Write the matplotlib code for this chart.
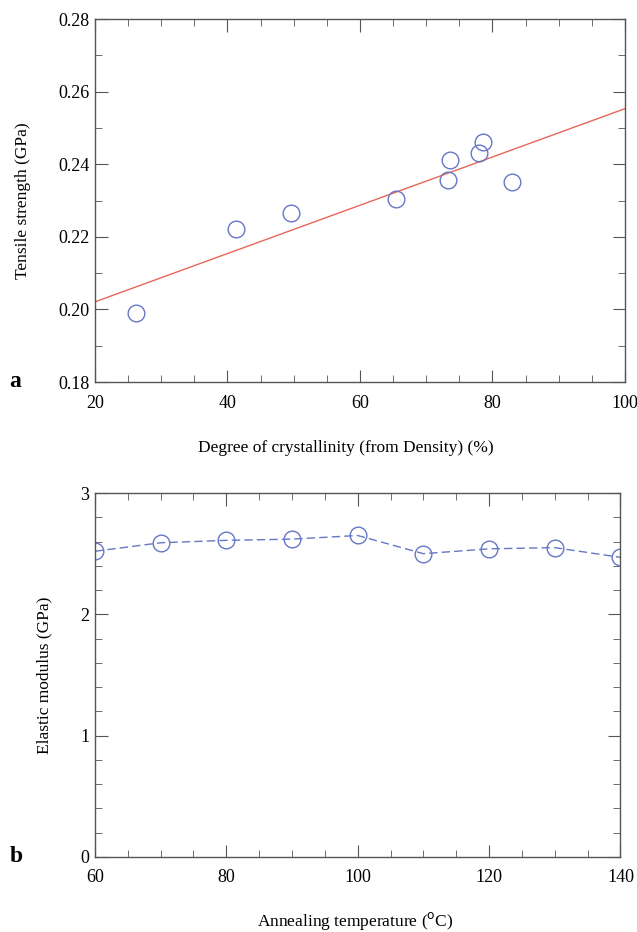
import matplotlib
matplotlib.use('Agg')
import matplotlib.pyplot as plt
from matplotlib.ticker import MultipleLocator

plt.rcParams['font.family'] = ['Liberation Serif', 'DejaVu Serif']

# Panel a: tensile strength vs crystallinity
crystallinity = [26.2, 41.3, 49.6, 65.5, 73.3, 73.6, 78.0, 78.6, 82.9]
tensile = [0.199, 0.2223, 0.2267, 0.2305, 0.2358, 0.2413, 0.2430, 0.2460, 0.2352]
fit_x = [20, 100]
fit_y = [0.2021, 0.2553]

# Panel b: elastic modulus vs annealing temperature
anneal_temp = [60, 70, 80, 90, 100, 110, 120, 130, 140]
modulus = [2.52, 2.59, 2.61, 2.62, 2.65, 2.50, 2.54, 2.55, 2.47]

blue = '#6677c4'
red = '#e8665a'
frame = '#555555'

fig = plt.figure(figsize=(6.37, 9.32), dpi=100)
ax1 = fig.add_axes([0.149, 0.590, 0.832, 0.3896])
ax2 = fig.add_axes([0.149, 0.0805, 0.825, 0.3905])


def style(ax):
    for s in ax.spines.values():
        s.set_color(frame)
        s.set_linewidth(1.0)
    ax.tick_params(which='both', direction='in', top=True, right=True,
                   color=frame, labelsize=13)
    ax.tick_params(which='major', length=9)
    ax.tick_params(which='minor', length=5)
    ax.tick_params(axis='x', which='major', pad=9)
    ax.tick_params(axis='y', which='major', pad=4)


# top panel
ax1.plot(fit_x, fit_y, color=red, lw=1.0)
ax1.plot(crystallinity, tensile, 'o', mfc='none', mec=blue, ms=12, mew=1.0)
ax1.set_xlim(20, 100)
ax1.set_ylim(0.18, 0.28)
ax1.xaxis.set_major_locator(MultipleLocator(20))
ax1.xaxis.set_minor_locator(MultipleLocator(5))
ax1.yaxis.set_major_locator(MultipleLocator(0.02))
ax1.yaxis.set_minor_locator(MultipleLocator(0.01))
ax1.yaxis.set_major_formatter(plt.FormatStrFormatter('%.2f'))
style(ax1)
ax1.set_xlabel('Degree of crystallinity (from Density) (%)', fontsize=12.5)
ax1.xaxis.set_label_coords(0.474, -0.160)
ax1.set_ylabel('Tensile strength (GPa)', fontsize=12.5)
ax1.yaxis.set_label_coords(-0.121, 0.5)
fig.text(0.015, 0.591, 'a', fontsize=17, fontweight='bold', va='center')

# bottom panel
ax2.plot(anneal_temp, modulus, '--o', color=blue, mfc='none', mec=blue,
         ms=12, mew=1.0, lw=1.0, dashes=(6, 3))
ax2.set_xlim(60, 140)
ax2.set_ylim(0, 3)
ax2.xaxis.set_major_locator(MultipleLocator(20))
ax2.xaxis.set_minor_locator(MultipleLocator(5))
ax2.yaxis.set_major_locator(MultipleLocator(1))
ax2.yaxis.set_minor_locator(MultipleLocator(0.2))
style(ax2)
ax2.set_xlabel('Annealing temperature ($^{\\rm o}$C)', fontsize=12.5)
ax2.xaxis.set_label_coords(0.495, -0.145)
ax2.set_ylabel('Elastic modulus (GPa)', fontsize=12.5)
ax2.yaxis.set_label_coords(-0.080, 0.5)
fig.text(0.015, 0.081, 'b', fontsize=17, fontweight='bold', va='center')

fig.savefig('out.png', dpi=100)
